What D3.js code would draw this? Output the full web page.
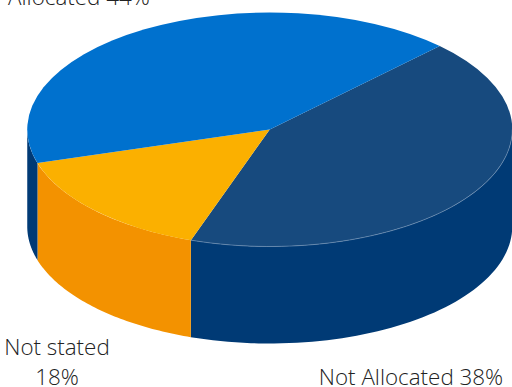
<!DOCTYPE html>
<html><head><meta charset="utf-8">
<script src="https://cdnjs.cloudflare.com/ajax/libs/d3/7.9.0/d3.min.js"></script>
<style>html,body{margin:0;padding:0;background:#fff}svg{display:block}text{font-family:"Open Sans",sans-serif;font-weight:300;font-size:22.4px;fill:#222}</style>
</head><body><svg id="c" width="512" height="387"></svg>
<script>
const categories = ["Not Allocated", "Not stated", "Allocated"];
const shares = [38, 18, 44];
const topColors = ["#174a7e", "#fbb000", "#0071ce"];
const wallColors = ["#003a75", "#f39200", "#003a75"];

const cx = 269.75, cy = 129.5, rx = 242.5, ry = 117, depth = 97;
const rad = Math.PI / 180;
// Perspective foreshortening of the disc: true angle to drawn angle.
const skew = 12.53 * rad, skewAxis = 78.14 * rad, startAngle = 50.34 * rad;
const warp = a => a + skew * Math.sin(a - skewAxis);

const svg = d3.select("#c");
const slices = d3.pie().sort(null).startAngle(startAngle).endAngle(startAngle + 2 * Math.PI)(shares);
const sx = d3.scaleLinear().domain([-1, 1]).range([cx - rx, cx + rx]);
const sy = d3.scaleLinear().domain([-1, 1]).range([cy - ry, cy + ry]);
const rim = a => [sx(Math.sin(a)), sy(-Math.cos(a))];

// Side walls: only the front half of the rim (90deg to 270deg) is visible.
const wallPath = (a0, a1) => {
  const n = 60, pts = d3.range(n + 1).map(i => rim(a0 + (a1 - a0) * i / n));
  const lower = pts.map(p => [p[0], p[1] + depth]).reverse();
  return d3.line()(pts.concat(lower)) + "Z";
};
const front0 = Math.PI / 2, front1 = 3 * Math.PI / 2;
slices.forEach((d, i) => {
  [[d.startAngle, d.endAngle], [d.startAngle + 2 * Math.PI, d.endAngle + 2 * Math.PI]].forEach(([s, e]) => {
    const a0 = Math.max(warp(s), front0), a1 = Math.min(warp(e), front1);
    if (a1 > a0) svg.append("path").attr("d", wallPath(a0, a1)).attr("fill", wallColors[i]);
  });
});

// Top face: unit pie wedges stretched onto the ellipse.
const arc = d3.arc().innerRadius(0).outerRadius(1);
svg.append("g").attr("transform", `translate(${cx},${cy}) scale(${rx},${ry})`)
  .selectAll("path").data(slices).join("path")
  .attr("d", d => arc({startAngle: warp(d.startAngle), endAngle: warp(d.endAngle)}))
  .attr("fill", (d, i) => topColors[i]);

// Pale highlight along the front rim of the dark wedge.
const d0 = slices[0];
const rimPts = d3.range(61).map(i => rim(front0 + (warp(d0.endAngle) - front0) * i / 60));
svg.append("path").attr("d", d3.line()(rimPts)).attr("fill", "none").attr("stroke", "#6f8fb3").attr("stroke-width", 0.7);

const labels = [
  {t: `${categories[2]} ${shares[2]}%`, x: 79, y: 5},
  {t: categories[1], x: 57, y: 355},
  {t: `${shares[1]}%`, x: 57, y: 385},
  {t: `${categories[0]} ${shares[0]}%`, x: 411, y: 385}
];
svg.selectAll("text").data(labels).join("text")
  .attr("x", d => d.x).attr("y", d => d.y).attr("text-anchor", "middle").text(d => d.t);
</script></body></html>
